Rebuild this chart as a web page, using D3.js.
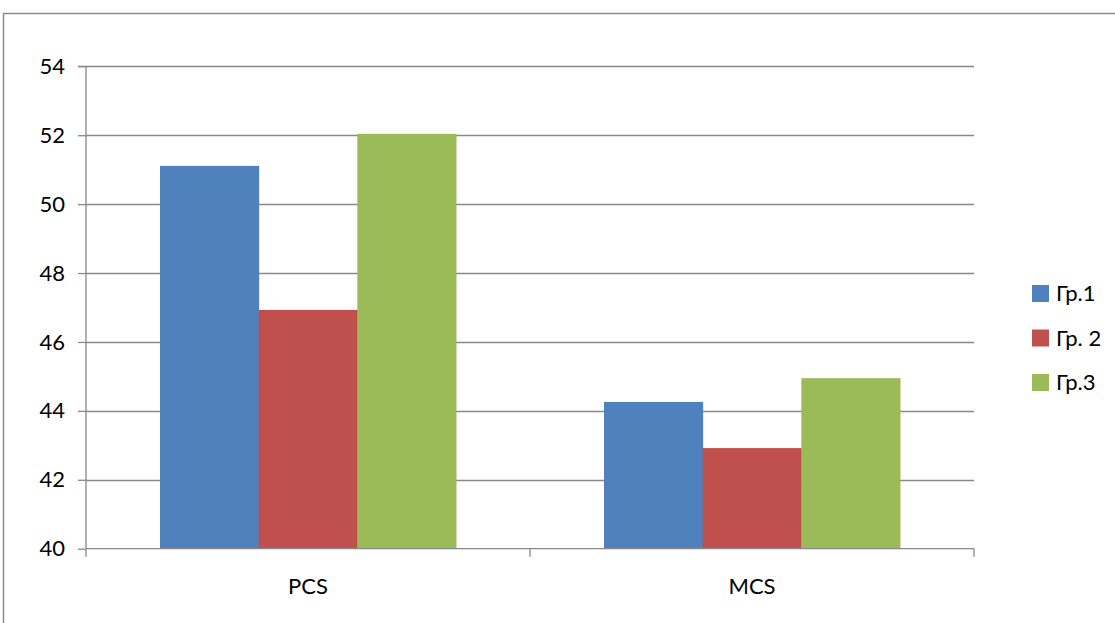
<!DOCTYPE html>
<html><head><meta charset="utf-8">
<script src="https://cdn.jsdelivr.net/npm/d3@7"></script>
<style>body{margin:0;background:#fff}svg{display:block}text{font-family:Lato,"Liberation Sans",sans-serif;fill:#000}</style>
</head><body><svg id="c" width="1115" height="623"></svg>
<script>
const categories = ["PCS", "MCS"];
const seriesNames = ["Гр.1", "Гр. 2", "Гр.3"];
const seriesColors = ["#4f81bd", "#c0504d", "#9bbb59"];
const gr1 = [51.11, 44.26];
const gr2 = [46.93, 42.92];
const gr3 = [52.04, 44.95];
const yTicks = [40, 42, 44, 46, 48, 50, 52, 54];
const values = [gr1, gr2, gr3];

const svg = d3.select("#c");
const L = 86, R = 974, T = 66.3, B = 548.7;
const FS = 22;
// outer frame
svg.append("rect").attr("x", 3.5).attr("y", 13.5).attr("width", 1200).attr("height", 700)
  .attr("fill", "none").attr("stroke", "#8c8c8c").attr("stroke-width", 1.5);

const y = d3.scaleLinear().domain([40, 54]).range([B, T]);
const x0 = d3.scaleBand().domain(categories).range([L, R]).padding(0);
const x1 = d3.scaleBand().domain(seriesNames).range([0, x0.bandwidth()]).paddingInner(0).paddingOuter(0.75);

// gridlines
svg.append("g").selectAll("line").data(yTicks.filter(d => d > 40)).join("line")
  .attr("x1", L).attr("x2", R).attr("y1", d => Math.round(y(d)) + 0.5).attr("y2", d => Math.round(y(d)) + 0.5)
  .attr("stroke", "#888").attr("stroke-width", 1.3);

// bars
categories.forEach((c, ci) => {
  svg.append("g").selectAll("rect").data(seriesNames).join("rect")
    .attr("x", s => x0(c) + x1(s)).attr("width", x1.bandwidth() + 0.5)
    .attr("y", (s, si) => y(values[si][ci])).attr("height", (s, si) => y(40) - y(values[si][ci]))
    .attr("fill", (s, si) => seriesColors[si]);
});

// y axis
const yAxis = d3.axisLeft(y).tickValues(yTicks).tickSize(8).tickPadding(13).tickFormat(d3.format("d"));
const gy = svg.append("g").attr("transform", `translate(${L},0)`).call(yAxis);
gy.select(".domain").attr("stroke", "#888").attr("stroke-width", 1.3).attr("d", `M-8,${T}H0V${B}`);
gy.selectAll(".tick line").attr("stroke", "#888").attr("stroke-width", 1.3);
gy.selectAll(".tick text").attr("font-size", FS).attr("font-family", "Lato").attr("fill", "#000");

// x axis
const xAxis = d3.axisBottom(x0).tickSize(0).tickPadding(30);
const gx = svg.append("g").attr("transform", `translate(0,${B})`).call(xAxis);
gx.select(".domain").attr("stroke", "#888").attr("stroke-width", 1.3).attr("d", `M${L},0H${R}`);
gx.selectAll(".tick text").attr("font-size", FS).attr("font-family", "Lato").attr("fill", "#000");
// category boundary ticks
const bounds = [L, x0("MCS"), R];
svg.append("g").selectAll("line").data(bounds).join("line")
  .attr("x1", d => d).attr("x2", d => d).attr("y1", B).attr("y2", B + 8)
  .attr("stroke", "#888").attr("stroke-width", 1.3);

// legend
const lg = svg.append("g").attr("transform", "translate(1032,285)");
const li = lg.selectAll("g").data(seriesNames).join("g").attr("transform", (d, i) => `translate(0,${i * 44.5})`);
li.append("rect").attr("width", 17).attr("height", 17).attr("fill", (d, i) => seriesColors[i]);
li.append("text").attr("x", 24).attr("y", 8.5).attr("dy", "0.35em").attr("font-size", FS).text(d => d);
</script></body></html>
